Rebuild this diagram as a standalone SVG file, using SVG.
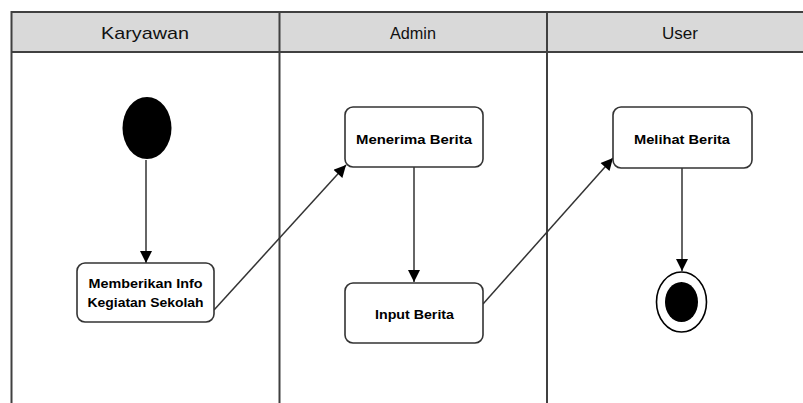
<svg xmlns="http://www.w3.org/2000/svg" width="803" height="403" viewBox="0 0 803 403">
<defs>
<style>
.lane{stroke:#404040;stroke-width:2;fill:none}
.hdr{fill:#d9d9d9;stroke:none}
.ht{font-family:"Liberation Sans",Arial,sans-serif;font-size:17px;fill:#111;text-anchor:middle}
.box{fill:#fff;stroke:#333;stroke-width:1.6}
.bt{font-family:"Liberation Sans",Arial,sans-serif;font-size:13px;font-weight:bold;fill:#000;text-anchor:middle}
.conn{stroke:#333;stroke-width:1.5;fill:none;marker-end:url(#ah)}
</style>
<marker id="ah" viewBox="0 0 10 10" refX="10" refY="5" markerWidth="14" markerHeight="12" markerUnits="userSpaceOnUse" orient="auto">
<path d="M0,0 L10,5 L0,10 Z" fill="#000"/>
</marker>
</defs>
<rect width="803" height="403" fill="#fff"/>
<g id="lanes">
<rect class="hdr" x="11.5" y="12" width="792" height="40"/>
<line class="lane" x1="11.5" y1="12" x2="803" y2="12"/>
<line class="lane" x1="11.5" y1="52" x2="803" y2="52"/>
<line class="lane" x1="11.5" y1="11" x2="11.5" y2="403"/>
<line class="lane" x1="279.5" y1="11" x2="279.5" y2="403"/>
<line class="lane" x1="547" y1="11" x2="547" y2="403"/>
<text class="ht" x="145" y="38.5" textLength="88" lengthAdjust="spacingAndGlyphs">Karyawan</text>
<text class="ht" x="413" y="38.5" textLength="46" lengthAdjust="spacingAndGlyphs">Admin</text>
<text class="ht" x="680" y="38.5" textLength="36" lengthAdjust="spacingAndGlyphs">User</text>
</g>
<g id="connectors">
<line class="conn" x1="146" y1="160" x2="146" y2="263"/>
<line class="conn" x1="214" y1="310" x2="346" y2="165"/>
<line class="conn" x1="414" y1="167" x2="414" y2="282"/>
<line class="conn" x1="483" y1="304" x2="613" y2="158"/>
<line class="conn" x1="682" y1="168" x2="682" y2="271"/>
</g>
<g id="start">
<ellipse cx="147" cy="128" rx="24.5" ry="31" fill="#000"/>
</g>
<g id="memberikan">
<rect class="box" x="77" y="263" width="137" height="59" rx="8"/>
<text class="bt" x="145.5" y="288" textLength="114" lengthAdjust="spacingAndGlyphs">Memberikan Info</text>
<text class="bt" x="145.5" y="307" textLength="116" lengthAdjust="spacingAndGlyphs">Kegiatan Sekolah</text>
</g>
<g id="menerima">
<rect class="box" x="345" y="107" width="138" height="60" rx="8"/>
<text class="bt" x="414" y="144" textLength="116" lengthAdjust="spacingAndGlyphs">Menerima Berita</text>
</g>
<g id="input">
<rect class="box" x="345" y="283" width="138" height="60" rx="8"/>
<text class="bt" x="414.5" y="319" textLength="79" lengthAdjust="spacingAndGlyphs">Input Berita</text>
</g>
<g id="melihat">
<rect class="box" x="613" y="107" width="139" height="61" rx="8"/>
<text class="bt" x="682" y="144" textLength="96" lengthAdjust="spacingAndGlyphs">Melihat Berita</text>
</g>
<g id="end">
<ellipse cx="681.5" cy="302" rx="25" ry="30" fill="#fff" stroke="#000" stroke-width="1.6"/>
<ellipse cx="681.5" cy="302" rx="16.5" ry="20" fill="#000"/>
</g>
</svg>
